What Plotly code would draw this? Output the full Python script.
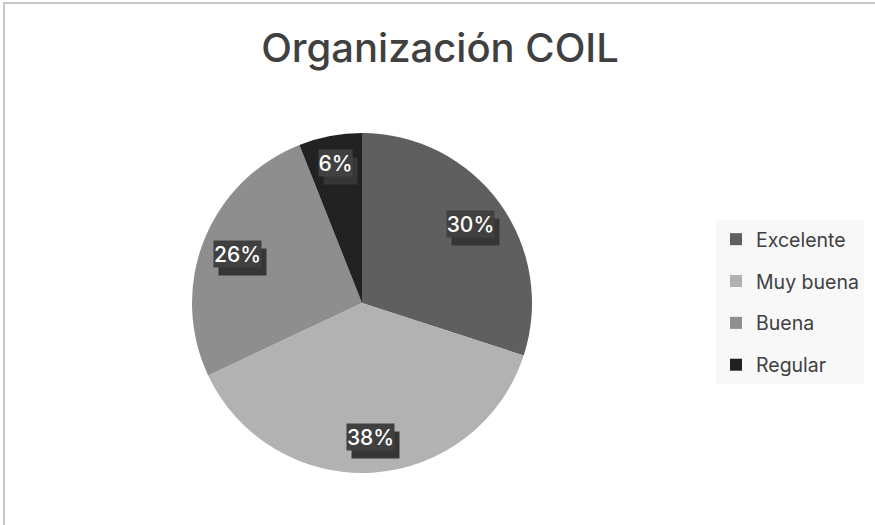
import math
import plotly.graph_objects as go

categories = ["Excelente", "Muy buena", "Buena", "Regular"]
values = [30, 38, 26, 6]
colors = ["#5f5f5f", "#b2b2b2", "#8e8e8e", "#222222"]

W, H = 875, 525
CX, CY, R = 362, 303, 170  # pie centre / radius in px (layout)
FONT = "Inter, Noto Sans, sans-serif"

fig = go.Figure()
fig.add_trace(go.Pie(
    labels=categories, values=values, sort=False, direction="clockwise",
    rotation=0, marker=dict(colors=colors, line=dict(width=0)),
    textinfo="none", hoverinfo="label+percent", showlegend=False,
    domain=dict(x=[(CX - R) / W, (CX + R) / W], y=[1 - (CY + R) / H, 1 - (CY - R) / H]),
))

# legend entries (square swatches) as separate groups so spacing can be set
for c, col in zip(categories, colors):
    fig.add_trace(go.Scatter(
        x=[None], y=[None], mode="markers", name=c, legendgroup=c,
        marker=dict(symbol="square", size=11, color=col), showlegend=True,
    ))

# percentage labels placed at each slice's mid-angle
total = sum(values)
cum = 0
annotations = []
for v in values:
    mid = (cum + v / 2) / total * 2 * math.pi
    cum += v
    frac = 0.79 if v / total >= 0.1 else 0.84
    px = CX + frac * R * math.sin(mid)
    py = CY - frac * R * math.cos(mid)
    txt = f"{round(v / total * 100)}%"
    bw = 14 * len(txt) + 5
    common = dict(x=px / W, y=1 - py / H, xref="paper", yref="paper",
                  xanchor="center", yanchor="middle",
                  showarrow=False, borderpad=0, width=bw, height=26)
    # drop-shadow box behind the label
    annotations.append(dict(text=" ", bgcolor="#363636", xshift=5, yshift=-8,
                            font=dict(family=FONT, size=21, color="#363636"),
                            **common))
    annotations.append(dict(text=txt, bgcolor="#404040",
                            font=dict(family=FONT, size=21, color="#ffffff", weight=500),
                            **common))

fig.update_layout(
    width=W, height=H,
    margin=dict(l=0, r=0, t=0, b=0),
    paper_bgcolor="#ffffff", plot_bgcolor="#ffffff",
    xaxis=dict(visible=False), yaxis=dict(visible=False),
    title=dict(text="Organización COIL", x=440 / W, xanchor="center",
               y=1 - 48 / H, yanchor="middle",
               font=dict(family=FONT, size=40, color="#404040", weight=500)),
    legend=dict(x=716 / W, y=1 - 220 / H, xanchor="left", yanchor="top",
                bgcolor="#f8f8f8", font=dict(family=FONT, size=19.5, color="#404040"),
                tracegroupgap=13.5, itemsizing="constant"),
    annotations=annotations,
    shapes=[dict(type="path", xref="paper", yref="paper",
                 path=f"M {4/W} 0 L {4/W} {1-3/H} L 1 {1-3/H}",
                 line=dict(color="#c8c8c8", width=2))],
)

fig.write_html("out.html", config={"displayModeBar": False},
               post_script="document.body.style.margin='0';")
